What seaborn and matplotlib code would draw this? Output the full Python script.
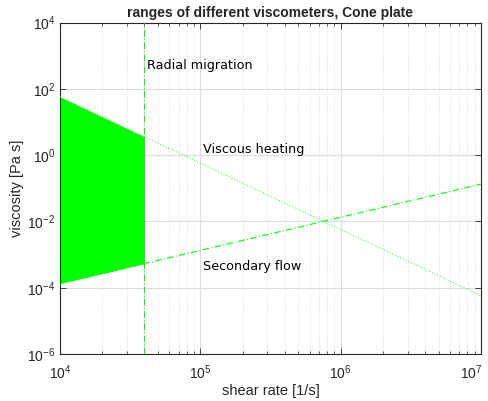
import numpy as np
import pandas as pd
import matplotlib
matplotlib.use("Agg")
import matplotlib.pyplot as plt
import seaborn as sns
from matplotlib.ticker import LogLocator, NullFormatter, FuncFormatter

# Shear-rate sample points [1/s]
shear_rate = [1e4, 4e4, 1e7]
# Upper viscosity limit set by viscous heating [Pa s]
viscous_heating = [57.5, 3.6, 5.75e-5]
# Lower viscosity limit set by secondary flow [Pa s]
secondary_flow = [1.34e-4, 5.36e-4, 0.134]
# Shear rate above which radial migration sets in [1/s]
radial_migration = 4e4

labels = ["Radial migration", "Viscous heating", "Secondary flow"]
label_x = [4.15e4, 1.05e5, 1.05e5]
label_y = [500, 1.5, 4.5e-4]

sns.set_theme(style="ticks")
plt.rcParams["font.family"] = ["Liberation Sans", "DejaVu Sans"]
plt.rcParams["mathtext.default"] = "regular"

lime = (0.0, 1.0, 0.0)
ink = "#262626"

fig = plt.figure(figsize=(4.89, 4.01), dpi=100)
ax = fig.add_axes([60 / 489, 47 / 401, 421 / 489, 331.3 / 401])

df = pd.DataFrame({"rate": shear_rate, "heat": viscous_heating, "sec": secondary_flow})
op = df[df["rate"] <= radial_migration]

ax.fill_between(op["rate"], op["sec"], op["heat"], color=lime, linewidth=0, zorder=2)

sns.lineplot(data=df, x="rate", y="heat", ax=ax, color=lime, linestyle=(0, (1, 2)),
             linewidth=0.7, zorder=3)
sns.lineplot(data=df, x="rate", y="sec", ax=ax, color=lime, linestyle=(0, (6, 2, 1, 2)),
             linewidth=0.8, zorder=3)
ax.axvline(radial_migration, color=lime, linestyle=(0, (6, 2, 1, 2)), linewidth=0.8, zorder=3)

ax.set_xscale("log")
ax.set_yscale("log")
x_min, x_max = 1e4, 1e7
ax.set_xlim(x_min, x_max)
ax.set_ylim(1e-6, 1e4)


def decade_label(v, pos):
    # the right-most label is drawn separately so it stays inside the figure
    if np.isclose(v, x_max):
        return ""
    return r"$10^{%d}$" % int(round(np.log10(v)))


ax.xaxis.set_major_locator(LogLocator(base=10, numticks=10))
ax.xaxis.set_major_formatter(FuncFormatter(decade_label))
ax.xaxis.set_minor_locator(LogLocator(base=10, subs=np.arange(2, 10), numticks=30))
ax.xaxis.set_minor_formatter(NullFormatter())
ax.set_yticks([1e-6, 1e-4, 1e-2, 1e0, 1e2, 1e4])
ax.yaxis.set_minor_locator(plt.NullLocator())

ax.grid(True, which="major", color="#dcdcdc", linewidth=0.8, linestyle="-", zorder=0)
ax.grid(True, which="minor", axis="x", color="#d0d0d0", linewidth=0.6, linestyle=(0, (1, 2)), zorder=0)
ax.set_axisbelow(True)

ax.tick_params(which="both", direction="in", top=True, right=True, colors=ink,
               labelsize=10, labelcolor=ink)
ax.tick_params(which="major", length=4, width=0.6)
ax.tick_params(which="minor", length=2.5, width=0.5)
ax.tick_params(axis="x", pad=7)
for s in ax.spines.values():
    s.set_visible(True)
    s.set_color(ink)
    s.set_linewidth(0.8)

ax.annotate(r"$10^{%d}$" % int(round(np.log10(x_max))), xy=(x_max, 0),
            xycoords=("data", "axes fraction"), xytext=(1, -7), textcoords="offset points",
            ha="right", va="top", fontsize=10, color=ink, annotation_clip=False)

for t, x, y in zip(labels, label_x, label_y):
    ax.text(x, y, t, ha="left", va="center", fontsize=9.2, family="DejaVu Sans", color="black")

ax.set_title("ranges of different viscometers, Cone plate", fontsize=10, fontweight="bold", pad=4)
ax.set_xlabel("shear rate [1/s]", fontsize=10.5, color=ink, labelpad=1)
ax.set_ylabel("viscosity [Pa s]", fontsize=10.5, color=ink, labelpad=2)

fig.savefig("out.png", dpi=100)
